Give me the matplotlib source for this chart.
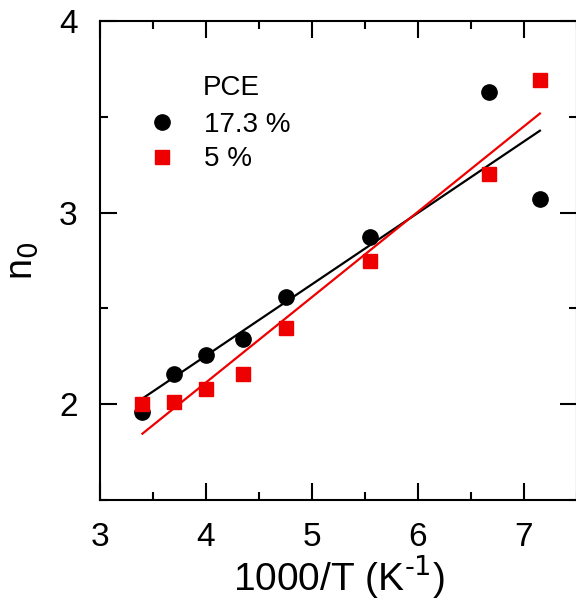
import numpy as np
import matplotlib.pyplot as plt
from matplotlib.ticker import MultipleLocator

plt.rcParams['font.family'] = ['Liberation Sans', 'DejaVu Sans']

# 1000/T values (K^-1)
inv_t = [3.4, 3.7, 4.0, 4.35, 4.75, 5.55, 6.67, 7.15]
# ideality factor n0 for the two devices
n0_high = [1.96, 2.16, 2.255, 2.34, 2.557, 2.875, 3.63, 3.07]
n0_low = [2.0, 2.01, 2.08, 2.156, 2.40, 2.745, 3.20, 3.69]
labels = ['17.3 %', '5 %']

fig = plt.figure(figsize=(5.76, 6.07), dpi=100)
ax = fig.add_axes([100 / 576, 1 - 500 / 607, 477 / 576, 479 / 607])

x = np.array(inv_t)
xs = np.array([x.min(), x.max()])

# linear fits
for y, col in [(n0_high, 'black'), (n0_low, '#ee0000')]:
    k, b = np.polyfit(x, y, 1)
    ax.plot(xs, k * xs + b, color=col, lw=1.6, zorder=2)

h1, = ax.plot(x, n0_high, 'o', color='black', ms=11, ls='none', zorder=3)
h2, = ax.plot(x, n0_low, 's', color='#ee0000', ms=10, ls='none', zorder=3)

ax.text(0.216, 0.86, 'PCE', transform=ax.transAxes, fontsize=20, va='center')
ax.legend([h1, h2], labels, loc='upper left', bbox_to_anchor=(0.072, 0.833),
          frameon=False, fontsize=20, handlelength=1.2, handletextpad=0.9,
          labelspacing=0.3, borderaxespad=0)

ax.set_xlim(3, 7.5)
ax.set_ylim(1.5, 4)
ax.xaxis.set_major_locator(MultipleLocator(1))
ax.xaxis.set_minor_locator(MultipleLocator(0.5))
ax.yaxis.set_major_locator(MultipleLocator(1))
ax.yaxis.set_minor_locator(MultipleLocator(0.5))
ax.tick_params(which='both', direction='in', top=True, right=True, width=1.5,
               labelsize=24, pad=16)
ax.tick_params(which='major', length=12)
ax.tick_params(which='minor', length=6)
for s in ax.spines.values():
    s.set_linewidth(1.5)

ax.set_xlabel(r'1000/T (K$^{\text{-}1}$)', fontsize=28, labelpad=0)
ax.set_ylabel('n$_0$', fontsize=27, labelpad=14)

fig.savefig('out.png', dpi=100)
